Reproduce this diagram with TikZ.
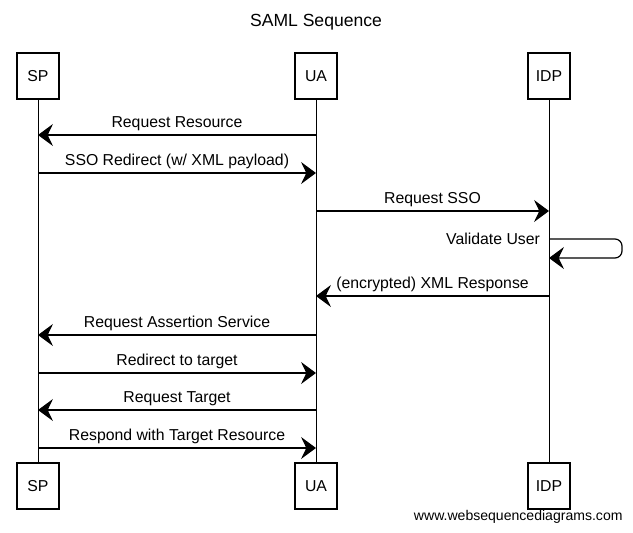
\documentclass[tikz,border=0pt]{standalone}
\usepackage{fontspec}
\setmainfont{Liberation Sans}
\usetikzlibrary{arrows.meta}

\begin{document}
\begin{tikzpicture}[x=0.02cm, y=-0.02cm, line width=0.5pt,
  actor/.style={draw, line width=0.8pt, minimum width=0.84cm, minimum height=0.92cm,
    font=\fontsize{9}{10}\selectfont},
  msg/.style={line width=0.7pt, -{Stealth[length=8.5pt, width=12.5pt, inset=3pt]}},
  lbl/.style={above, inner sep=1.8pt, font=\fontsize{9}{10}\selectfont}]
  \useasboundingbox (0,0) rectangle (633,532);
  % title
  \node[font=\fontsize{10}{12}\selectfont] (title) at (316,22) {SAML Sequence};
  % actors, top and bottom
  \node[actor] (sp) at (38,76) {SP};
  \node[actor] (ua) at (316,76) {UA};
  \node[actor] (idp) at (549,76) {IDP};
  \node[actor] (spb) at (38,486) {SP};
  \node[actor] (uab) at (316,486) {UA};
  \node[actor] (idpb) at (549,486) {IDP};
  % lifelines
  \draw (sp) -- (spb);
  \draw (ua) -- (uab);
  \draw (idp) -- (idpb);
  % message points
  \coordinate (sp1) at (38,135);  \coordinate (ua1) at (316,135);
  \coordinate (sp2) at (38,173);  \coordinate (ua2) at (316,173);
  \coordinate (ua3) at (316,211); \coordinate (idp3) at (549,211);
  \coordinate (idp4) at (549,239); \coordinate (idp5) at (549,258);
  \coordinate (ua6) at (316,296); \coordinate (idp6) at (549,296);
  \coordinate (sp7) at (38,335);  \coordinate (ua7) at (316,335);
  \coordinate (sp8) at (38,373);  \coordinate (ua8) at (316,373);
  \coordinate (sp9) at (38,410);  \coordinate (ua9) at (316,410);
  \coordinate (sp10) at (38,448); \coordinate (ua10) at (316,448);
  % messages
  \draw[msg] (ua1) -- node[lbl] {Request Resource} (sp1);
  \draw[msg] (sp2) -- node[lbl] {SSO Redirect (w/ XML payload)} (ua2);
  \draw[msg] (ua3) -- node[lbl] {Request SSO} (idp3);
  \draw[msg, rounded corners=4] (idp4) -- ++(73,0) |- (idp5);
  \node[left, inner sep=1.5pt, font=\fontsize{9}{10}\selectfont] (val) at ([xshift=-0.12cm]idp4) {Validate User};
  \draw[msg] (idp6) -- node[lbl] {(encrypted) XML Response} (ua6);
  \draw[msg] (ua7) -- node[lbl] {Request Assertion Service} (sp7);
  \draw[msg] (sp8) -- node[lbl] {Redirect to target} (ua8);
  \draw[msg] (ua9) -- node[lbl] {Request Target} (sp9);
  \draw[msg] (sp10) -- node[lbl] {Respond with Target Resource} (ua10);
  % watermark
  \node[anchor=east, inner sep=0pt, font=\fontsize{8}{9}\selectfont] (web) at (623,517) {www.websequencediagrams.com};
\end{tikzpicture}
\end{document}
